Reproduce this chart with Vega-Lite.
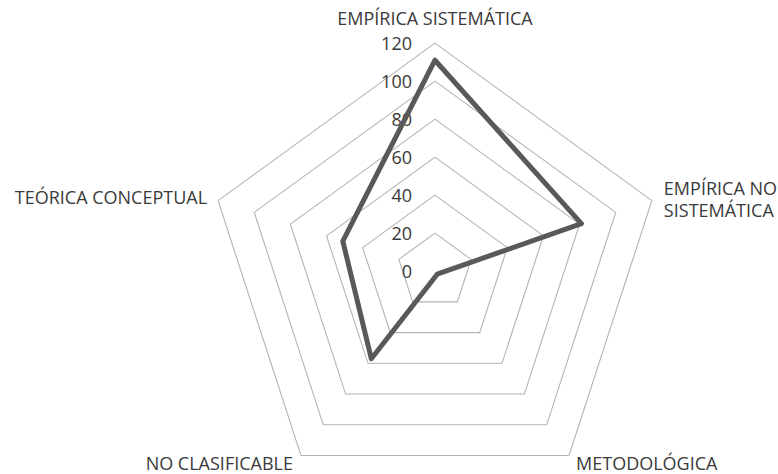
{
  "$schema": "https://vega.github.io/schema/vega-lite/v6.json",
  "width": 778,
  "height": 474,
  "autosize": "none",
  "padding": 0,
  "background": "white",
  "config": {"view": {"stroke": null}, "font": "Open Sans"},
  "datasets": {
    "datos": [
      {"categoria": "EMPÍRICA SISTEMÁTICA", "etiqueta": "EMPÍRICA SISTEMÁTICA", "valor": 111, "i": 0},
      {"categoria": "EMPÍRICA NO SISTEMÁTICA", "etiqueta": "EMPÍRICA NO\nSISTEMÁTICA", "valor": 81, "i": 1},
      {"categoria": "METODOLÓGICA", "etiqueta": "METODOLÓGICA", "valor": 2, "i": 2},
      {"categoria": "NO CLASIFICABLE", "etiqueta": "NO CLASIFICABLE", "valor": 57, "i": 3},
      {"categoria": "TEÓRICA CONCEPTUAL", "etiqueta": "TEÓRICA CONCEPTUAL", "valor": 51, "i": 4}
    ],
    "niveles": [
      {"nivel": 0, "i": [0, 1, 2, 3, 4]},
      {"nivel": 20, "i": [0, 1, 2, 3, 4]},
      {"nivel": 40, "i": [0, 1, 2, 3, 4]},
      {"nivel": 60, "i": [0, 1, 2, 3, 4]},
      {"nivel": 80, "i": [0, 1, 2, 3, 4]},
      {"nivel": 100, "i": [0, 1, 2, 3, 4]},
      {"nivel": 120, "i": [0, 1, 2, 3, 4]}
    ]
  },
  "encoding": {
    "x": {"field": "x", "type": "quantitative", "scale": {"domain": [-228.9, 180.5], "nice": false, "zero": false}, "axis": null},
    "y": {"field": "y", "type": "quantitative", "scale": {"domain": [-106.8, 142.7], "nice": false, "zero": false}, "axis": null}
  },
  "layer": [
    {
      "data": {"name": "niveles"},
      "transform": [
        {"filter": "datum.nivel > 0"},
        {"flatten": ["i"]},
        {"calculate": "datum.i * 2 * PI / 5", "as": "a"},
        {"calculate": "datum.nivel * sin(datum.a)", "as": "x"},
        {"calculate": "datum.nivel * cos(datum.a)", "as": "y"}
      ],
      "mark": {"type": "line", "interpolate": "linear-closed", "stroke": "#b3b3b3", "strokeWidth": 1.1},
      "encoding": {
        "detail": {"field": "nivel", "type": "nominal"},
        "order": {"field": "i", "type": "quantitative"}
      }
    },
    {
      "data": {"name": "niveles"},
      "transform": [
        {"calculate": "0", "as": "x"},
        {"calculate": "datum.nivel", "as": "y"}
      ],
      "mark": {"type": "text", "align": "right", "baseline": "alphabetic", "dx": -23, "dy": 7, "fontSize": 18, "fill": "#3a3a3a"},
      "encoding": {"text": {"field": "nivel", "type": "quantitative"}}
    },
    {
      "data": {"name": "datos"},
      "transform": [
        {"calculate": "datum.i * 2 * PI / 5", "as": "a"},
        {"calculate": "datum.valor * sin(datum.a)", "as": "x"},
        {"calculate": "datum.valor * cos(datum.a)", "as": "y"}
      ],
      "mark": {"type": "line", "interpolate": "linear-closed", "stroke": "#595959", "strokeWidth": 5, "strokeJoin": "round"},
      "encoding": {"order": {"field": "i", "type": "quantitative"}}
    },
    {
      "data": {"name": "datos"},
      "transform": [
        {"calculate": "datum.i * 2 * PI / 5", "as": "a"},
        {"calculate": "120 * sin(datum.a)", "as": "x"},
        {"calculate": "120 * cos(datum.a)", "as": "y"},
        {"calculate": "split(datum.etiqueta, '\\n')[0]", "as": "linea1"},
        {"calculate": "split(datum.etiqueta, '\\n')[1]", "as": "linea2"}
      ],
      "layer": [
        {
          "transform": [{"filter": "datum.i == 0"}],
          "mark": {"type": "text", "align": "center", "baseline": "alphabetic", "dy": -18, "fontSize": 18, "fill": "#3a3a3a"},
          "encoding": {"text": {"field": "linea1", "type": "nominal"}}
        },
        {
          "transform": [{"filter": "datum.i == 1"}],
          "mark": {"type": "text", "align": "left", "baseline": "alphabetic", "dx": 12, "dy": -6, "fontSize": 18, "fill": "#3a3a3a"},
          "encoding": {"text": {"field": "linea1", "type": "nominal"}}
        },
        {
          "transform": [{"filter": "datum.i == 1"}],
          "mark": {"type": "text", "align": "left", "baseline": "alphabetic", "dx": 12, "dy": 16, "fontSize": 18, "fill": "#3a3a3a"},
          "encoding": {"text": {"field": "linea2", "type": "nominal"}}
        },
        {
          "transform": [{"filter": "datum.i == 2"}],
          "mark": {"type": "text", "align": "left", "baseline": "alphabetic", "dx": 7, "dy": 14, "fontSize": 18, "fill": "#3a3a3a"},
          "encoding": {"text": {"field": "linea1", "type": "nominal"}}
        },
        {
          "transform": [{"filter": "datum.i == 3"}],
          "mark": {"type": "text", "align": "right", "baseline": "alphabetic", "dx": -8, "dy": 14, "fontSize": 18, "fill": "#3a3a3a"},
          "encoding": {"text": {"field": "linea1", "type": "nominal"}}
        },
        {
          "transform": [{"filter": "datum.i == 4"}],
          "mark": {"type": "text", "align": "right", "baseline": "alphabetic", "dx": -11, "dy": 3, "fontSize": 18, "fill": "#3a3a3a"},
          "encoding": {"text": {"field": "linea1", "type": "nominal"}}
        }
      ]
    }
  ]
}
